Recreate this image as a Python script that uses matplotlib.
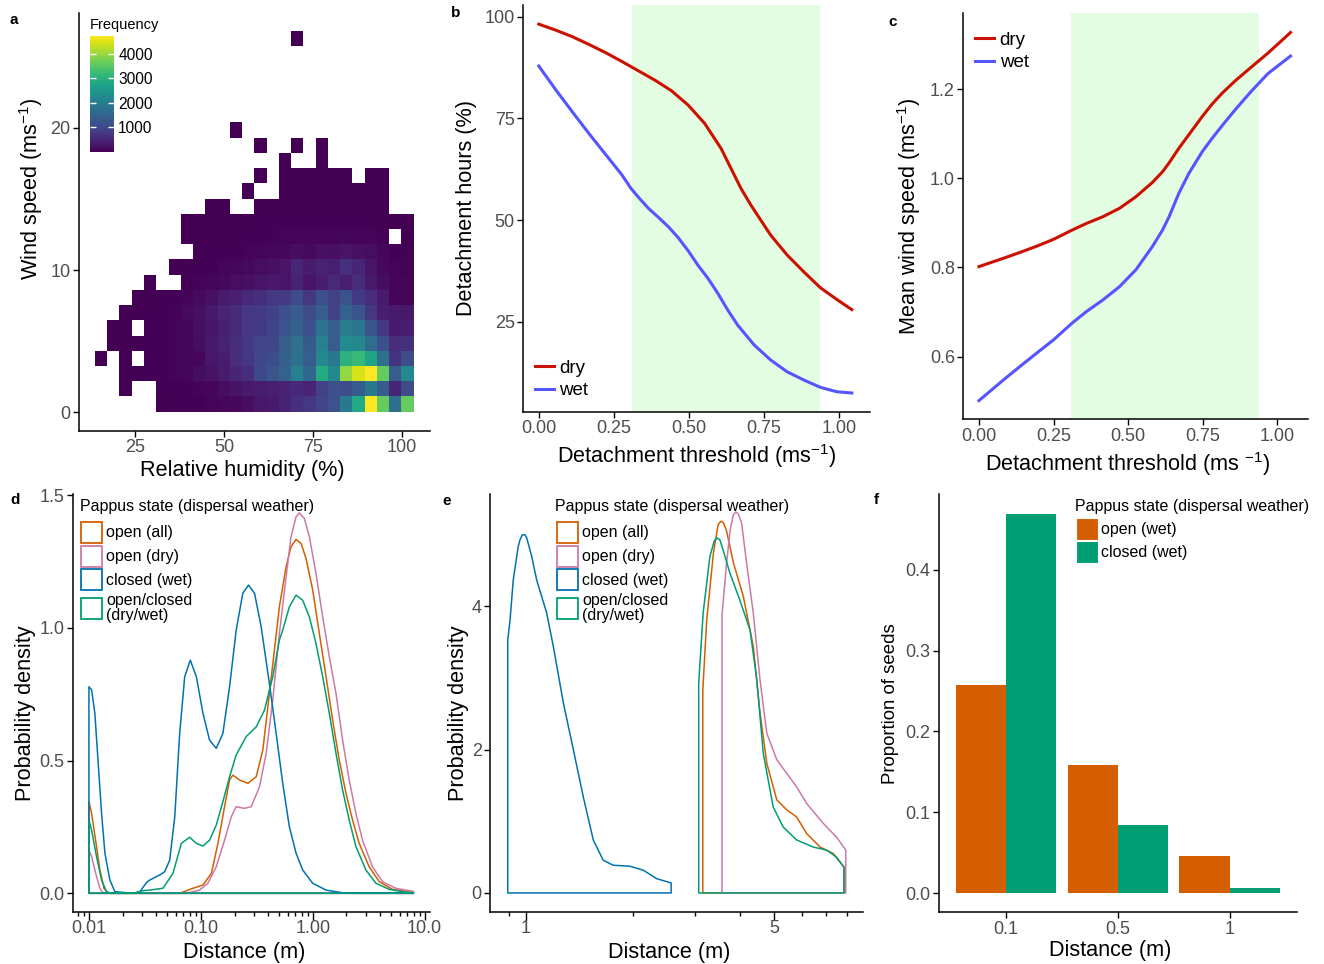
import numpy as np
import matplotlib
matplotlib.use("Agg")
import matplotlib.pyplot as plt
from matplotlib.patches import Patch, Polygon
from matplotlib.ticker import FixedLocator, FixedFormatter, NullFormatter

plt.rcParams["font.family"] = ["Liberation Sans", "DejaVu Sans"]
plt.rcParams["mathtext.fontset"] = "custom"
plt.rcParams["mathtext.rm"] = "Liberation Sans"
plt.rcParams["mathtext.it"] = "Liberation Sans:italic"
plt.rcParams["mathtext.default"] = "regular"

# ----------------------------------------------------------------------
# Data
# ----------------------------------------------------------------------

# a: 2D histogram of hourly weather, rows = wind-speed bins (bottom first),
#    columns = relative-humidity bins (left first); 0 = empty bin
rh_bin_start, rh_bin_width = 13.8, 3.44
ws_bin_start, ws_bin_height = 0.05, 1.07
wind_rh_counts = [
    [0, 0, 0, 0, 0, 15, 20, 25, 35, 50, 80, 110, 160, 280, 330, 450, 650, 750, 950, 1200, 1900, 2850, 4720, 3600, 1700, 3600],
    [0, 0, 10, 0, 0, 20, 25, 30, 45, 70, 150, 230, 330, 380, 420, 450, 550, 480, 900, 1150, 1100, 1350, 1900, 1370, 500, 1080],
    [0, 0, 10, 15, 20, 30, 40, 60, 150, 240, 340, 500, 620, 1050, 1230, 1450, 2030, 1550, 2880, 2220, 3960, 4440, 4720, 3590, 1370, 2220],
    [5, 0, 10, 0, 20, 30, 40, 60, 90, 280, 380, 600, 750, 1000, 1100, 1420, 1750, 1370, 2220, 1900, 3020, 3160, 2740, 1750, 700, 1080],
    [0, 10, 10, 15, 20, 30, 40, 60, 150, 300, 450, 610, 800, 950, 1000, 1400, 1750, 1300, 2030, 1370, 2250, 2220, 1650, 1180, 600, 650],
    [0, 10, 10, 0, 20, 30, 40, 60, 170, 260, 420, 560, 750, 800, 950, 1230, 1450, 1150, 1800, 1370, 1950, 1850, 1230, 780, 340, 380],
    [0, 0, 10, 15, 20, 30, 40, 120, 180, 300, 470, 560, 750, 780, 900, 1180, 1370, 1080, 1400, 900, 1450, 1250, 750, 400, 330, 300],
    [0, 0, 0, 10, 15, 20, 25, 40, 120, 200, 350, 400, 520, 620, 750, 800, 1080, 750, 1150, 900, 1200, 800, 600, 340, 60, 50],
    [0, 0, 0, 0, 10, 0, 0, 20, 40, 60, 100, 150, 200, 250, 300, 250, 450, 250, 380, 550, 400, 600, 330, 150, 60, 50],
    [0, 0, 0, 0, 0, 0, 15, 20, 25, 30, 60, 80, 120, 150, 200, 250, 500, 350, 450, 400, 650, 500, 250, 100, 40, 30],
    [0, 0, 0, 0, 0, 0, 0, 0, 20, 25, 30, 35, 40, 60, 80, 100, 150, 120, 200, 180, 250, 200, 150, 80, 30, 30],
    [0, 0, 0, 0, 0, 0, 0, 10, 12, 15, 18, 20, 25, 30, 35, 40, 50, 45, 60, 55, 60, 50, 40, 30, 0, 15],
    [0, 0, 0, 0, 0, 0, 0, 8, 10, 10, 12, 15, 15, 20, 25, 25, 30, 28, 35, 30, 30, 28, 22, 18, 12, 10],
    [0, 0, 0, 0, 0, 0, 0, 0, 0, 5, 5, 0, 0, 8, 10, 12, 15, 14, 18, 15, 15, 14, 12, 10, 0, 0],
    [0, 0, 0, 0, 0, 0, 0, 0, 0, 0, 0, 0, 4, 0, 0, 6, 8, 8, 10, 9, 9, 8, 7, 6, 0, 0],
    [0, 0, 0, 0, 0, 0, 0, 0, 0, 0, 0, 0, 0, 3, 0, 4, 5, 5, 6, 5, 5, 0, 4, 4, 0, 0],
    [0, 0, 0, 0, 0, 0, 0, 0, 0, 0, 0, 0, 0, 0, 0, 3, 0, 0, 3, 0, 0, 0, 0, 0, 0, 0],
    [0, 0, 0, 0, 0, 0, 0, 0, 0, 0, 0, 0, 0, 3, 0, 0, 3, 0, 3, 0, 0, 0, 0, 0, 0, 0],
    [0, 0, 0, 0, 0, 0, 0, 0, 0, 0, 0, 3, 0, 0, 0, 0, 0, 0, 0, 0, 0, 0, 0, 0, 0, 0],
    [0] * 26,
    [0] * 26,
    [0] * 26,
    [0] * 26,
    [0] * 26,
    [0, 0, 0, 0, 0, 0, 0, 0, 0, 0, 0, 0, 0, 0, 0, 0, 3, 0, 0, 0, 0, 0, 0, 0, 0, 0],
]
freq_ticks = [1000, 2000, 3000, 4000]

# b: detachment hours vs threshold
b_thr_dry = [0.0, 0.057, 0.112, 0.167, 0.222, 0.277, 0.332, 0.387, 0.442, 0.497, 0.552, 0.607,
             0.64, 0.673, 0.706, 0.739, 0.772, 0.827, 0.882, 0.937, 0.992, 1.042]
b_hours_dry = [98.2, 96.7, 95.1, 93.2, 91.2, 89.0, 86.7, 84.4, 81.8, 78.3, 73.8, 67.6,
               62.7, 57.8, 53.7, 50.0, 46.3, 41.4, 37.3, 33.4, 30.5, 28.0]
b_thr_wet = [0.0, 0.057, 0.112, 0.167, 0.222, 0.277, 0.307, 0.332, 0.365, 0.398, 0.431, 0.464,
             0.497, 0.53, 0.563, 0.596, 0.629, 0.662, 0.717, 0.772, 0.827, 0.882, 0.937, 0.992, 1.042]
b_hours_wet = [87.9, 82.0, 76.6, 71.3, 66.2, 61.1, 57.8, 55.6, 52.9, 50.7, 48.4, 45.7,
               42.5, 38.9, 35.7, 32.0, 27.9, 24.2, 19.3, 15.6, 12.7, 10.7, 8.9, 7.8, 7.5]

# c: mean wind speed vs threshold
c_thr_dry = [0.0, 0.083, 0.138, 0.194, 0.249, 0.312, 0.36, 0.415, 0.471, 0.526, 0.581, 0.615,
             0.637, 0.67, 0.703, 0.748, 0.781, 0.814, 0.858, 0.914, 0.969, 1.044]
c_speed_dry = [0.802, 0.821, 0.834, 0.848, 0.863, 0.884, 0.899, 0.914, 0.933, 0.959, 0.991, 1.015,
               1.035, 1.068, 1.098, 1.139, 1.167, 1.191, 1.219, 1.251, 1.282, 1.328]
c_thr_wet = [0.0, 0.083, 0.138, 0.194, 0.249, 0.312, 0.36, 0.415, 0.471, 0.526, 0.581, 0.615,
             0.637, 0.67, 0.703, 0.748, 0.781, 0.814, 0.858, 0.914, 0.969, 1.044]
c_speed_wet = [0.501, 0.548, 0.578, 0.608, 0.637, 0.675, 0.701, 0.727, 0.757, 0.795, 0.847, 0.884,
               0.914, 0.967, 1.011, 1.060, 1.090, 1.118, 1.154, 1.197, 1.236, 1.275]

# shaded range of plausible detachment thresholds (b, c)
thr_band = (0.31, 0.937)

# d: dispersal-distance densities, x as log10(distance in m)
d_open_all_lx = [-2.0, -1.976, -1.932, -1.902, -1.866, -1.828, -1.189, -1.07, -0.981, -0.906, -0.847, -0.788,
                 -0.743, -0.714, -0.654, -0.58, -0.505, -0.446, -0.387, -0.298, -0.238, -0.194, -0.149, -0.104,
                 -0.06, 0.0, 0.059, 0.119, 0.178, 0.237, 0.297, 0.356, 0.415, 0.504, 0.594, 0.712, 0.9]
d_open_all_y = [0.345, 0.301, 0.176, 0.088, 0.019, 0.0, 0.0, 0.019, 0.031, 0.075, 0.188, 0.326,
                0.427, 0.445, 0.427, 0.414, 0.439, 0.54, 0.753, 1.079, 1.23, 1.305, 1.333, 1.318,
                1.261, 1.142, 0.979, 0.816, 0.652, 0.502, 0.377, 0.276, 0.188, 0.1, 0.044, 0.015, 0.003]
d_open_dry_lx = [-2.0, -1.976, -1.932, -1.902, -1.872, -1.129, -1.011, -0.937, -0.862, -0.788, -0.728, -0.684,
                 -0.61, -0.55, -0.476, -0.416, -0.357, -0.298, -0.238, -0.194, -0.149, -0.12, -0.075, -0.03,
                 0.029, 0.089, 0.148, 0.208, 0.267, 0.326, 0.386, 0.445, 0.534, 0.623, 0.742, 0.9]
d_open_dry_y = [0.163, 0.138, 0.063, 0.019, 0.0, 0.0, 0.012, 0.038, 0.1, 0.2, 0.288, 0.326,
                0.32, 0.326, 0.401, 0.527, 0.728, 0.979, 1.192, 1.343, 1.418, 1.433, 1.412, 1.343,
                1.205, 1.041, 0.891, 0.753, 0.577, 0.427, 0.301, 0.2, 0.1, 0.044, 0.019, 0.007]
d_closed_wet_lx = [-2.0, -1.976, -1.947, -1.917, -1.887, -1.857, -1.813, -1.768, -1.605, -1.545, -1.486, -1.456,
                   -1.367, -1.323, -1.278, -1.233, -1.189, -1.144, -1.094, -1.04, -0.981, -0.922, -0.862, -0.803,
                   -0.743, -0.684, -0.625, -0.574, -0.52, -0.461, -0.387, -0.327, -0.268, -0.209, -0.149, -0.09,
                   -0.001, 0.119, 0.266, 0.385, 0.9]
d_closed_wet_y = [0.778, 0.766, 0.678, 0.489, 0.301, 0.151, 0.05, 0.006, 0.0, 0.006, 0.04, 0.05,
                  0.069, 0.081, 0.125, 0.288, 0.602, 0.816, 0.878, 0.816, 0.678, 0.577, 0.546, 0.602,
                  0.778, 0.991, 1.13, 1.161, 1.13, 1.004, 0.79, 0.602, 0.414, 0.251, 0.151, 0.088,
                  0.038, 0.012, 0.002, 0.0, 0.0]
d_mixed_lx = [-2.0, -1.976, -1.932, -1.887, -1.843, -1.798, -1.605, -1.516, -1.456, -1.338, -1.249, -1.174,
              -1.1, -1.04, -0.981, -0.922, -0.862, -0.803, -0.743, -0.684, -0.595, -0.505, -0.431, -0.357,
              -0.298, -0.268, -0.209, -0.149, -0.09, -0.03, 0.029, 0.089, 0.148, 0.208, 0.267, 0.326,
              0.386, 0.475, 0.564, 0.683, 0.801, 0.9]
d_mixed_y = [0.276, 0.238, 0.138, 0.05, 0.006, 0.0, 0.0, 0.01, 0.012, 0.019, 0.075, 0.188,
             0.211, 0.188, 0.178, 0.2, 0.257, 0.345, 0.439, 0.521, 0.59, 0.627, 0.69, 0.816,
             0.954, 0.991, 1.079, 1.123, 1.104, 1.041, 0.941, 0.816, 0.678, 0.527, 0.389, 0.276,
             0.176, 0.088, 0.038, 0.015, 0.006, 0.002]

# e: distance densities (second experiment), x as log10(distance in m)
e_open_all_lx = [0.498, 0.509, 0.528, 0.541, 0.549, 0.556, 0.565, 0.584, 0.612, 0.64, 0.659, 0.678,
                 0.706, 0.734, 0.762, 0.79, 0.828, 0.865, 0.895]
e_open_all_y = [2.83, 3.81, 4.75, 5.14, 5.19, 5.17, 5.05, 4.61, 4.14, 3.44, 2.51, 1.81,
                1.3, 1.16, 1.06, 0.83, 0.64, 0.55, 0.36]
e_open_dry_lx = [0.552, 0.565, 0.575, 0.584, 0.591, 0.598, 0.607, 0.621, 0.64, 0.659, 0.678, 0.706,
                 0.734, 0.762, 0.79, 0.837, 0.874, 0.9]
e_open_dry_y = [3.88, 4.61, 5.07, 5.28, 5.32, 5.29, 5.17, 4.61, 3.91, 2.97, 2.23, 1.86,
                1.67, 1.48, 1.25, 0.97, 0.78, 0.6]
e_closed_wet_lx = [-0.0505, -0.044, -0.035, -0.021, -0.016, -0.0095, -0.002, 0.0027, 0.0168, 0.0308, 0.059,
                   0.0777, 0.106, 0.134, 0.162, 0.19, 0.218, 0.246, 0.293, 0.331, 0.368, 0.409]
e_closed_wet_y = [3.53, 3.81, 4.37, 4.84, 4.93, 5.0, 5.0, 4.96, 4.7, 4.37, 3.91,
                  3.44, 2.65, 2.0, 1.34, 0.74, 0.457, 0.387, 0.373, 0.317, 0.2, 0.14]
e_mixed_lx = [0.4865, 0.499, 0.518, 0.53, 0.537, 0.546, 0.555, 0.574, 0.602, 0.631, 0.65, 0.668,
              0.696, 0.724, 0.762, 0.809, 0.846, 0.874, 0.895]
e_mixed_y = [2.93, 3.91, 4.7, 4.91, 4.96, 4.93, 4.79, 4.47, 4.09, 3.67, 2.97, 1.95,
             1.2, 0.92, 0.74, 0.64, 0.6, 0.5, 0.36]

# f: proportion of seeds reaching each distance
f_distance_labels = ["0.1", "0.5", "1"]
f_open_wet = [0.258, 0.159, 0.046]
f_closed_wet = [0.469, 0.085, 0.006]

state_labels = ["open (all)", "open (dry)", "closed (wet)", "open/closed\n(dry/wet)"]
legend_title = "Pappus state (dispersal weather)"

# ----------------------------------------------------------------------
# Style
# ----------------------------------------------------------------------
W, H = 1324, 964
GREY = "#4D4D4D"
DRY, WET = "#CC1100", "#5555FF"
C_OPEN_ALL, C_OPEN_DRY = "#D55E00", "#CC79A7"
C_CLOSED, C_MIXED = "#0072B2", "#009E73"
BAND = "#E2FDE2"
TICK_FS, TITLE_FS, LEG_FS = 13, 15.6, 11.5


def axes_px(fig, left, top, right, bottom):
    """Add axes from a pixel box (origin at top-left of the figure)."""
    return fig.add_axes([left / W, 1 - bottom / H, (right - left) / W, (bottom - top) / H])


def classic(ax):
    for s in ("top", "right"):
        ax.spines[s].set_visible(False)
    for s in ("left", "bottom"):
        ax.spines[s].set_linewidth(1.1)
    ax.tick_params(which="major", direction="out", length=4, width=1.0,
                   labelsize=TICK_FS, labelcolor=GREY, pad=2)
    ax.tick_params(which="minor", direction="out", length=2.8, width=1.0)


def density_outline(ax, lx, y, color):
    xs = 10 ** np.asarray(lx)
    ys = np.asarray(y)
    verts = np.column_stack([np.r_[xs[0], xs, xs[-1]], np.r_[0, ys, 0]])
    ax.add_patch(Polygon(verts, closed=True, fill=False, edgecolor=color, lw=1.1,
                         joinstyle="round"))


def state_legend(ax, title_px, anchor, handles, **kw):
    fig.text(title_px[0] / W, 1 - title_px[1] / H, legend_title, fontsize=LEG_FS,
             ha="left", va="center")
    opts = dict(loc="upper left", bbox_to_anchor=anchor, frameon=False,
                fontsize=LEG_FS, borderpad=0, borderaxespad=0,
                handlelength=1.31, handleheight=1.65, handletextpad=0.25,
                labelspacing=0.175)
    opts.update(kw)
    leg = ax.legend(handles=handles, **opts)
    for t in leg.get_texts():
        t.set_linespacing(0.95)
    return leg


fig = plt.figure(figsize=(W / 100, H / 100), dpi=100)

# ----------------------------------------------------------------------
# a: humidity / wind speed histogram
# ----------------------------------------------------------------------
ax = axes_px(fig, 79, 12.7, 430, 430.7)
counts = np.ma.masked_equal(np.array(wind_rh_counts, dtype=float), 0)
x_edges = rh_bin_start + rh_bin_width * np.arange(counts.shape[1] + 1)
y_edges = ws_bin_start + ws_bin_height * np.arange(counts.shape[0] + 1)
mesh = ax.pcolormesh(x_edges, y_edges, counts, cmap="viridis", vmin=1, vmax=4720,
                     shading="flat", antialiased=False)
ax.set_xlim(9.33, 107.8)
ax.set_ylim(-1.29, 28.1)
ax.set_xticks([25, 50, 75, 100])
ax.set_yticks([0, 10, 20])
classic(ax)
ax.set_xlabel("Relative humidity (%)", fontsize=TITLE_FS, labelpad=3)
ax.set_ylabel("Wind speed (ms$^{-1}$)", fontsize=TITLE_FS, labelpad=4)
ax.xaxis.label.set_x(0.466)
ax.yaxis.label.set_y(0.578)

cax = axes_px(fig, 90, 36, 114, 152)
cb = fig.colorbar(mesh, cax=cax, ticks=freq_ticks)
cb.outline.set_visible(False)
cax.tick_params(axis="y", which="major", left=True, right=True, direction="in",
                length=4, width=1.0, color="white", labelsize=11.2, labelcolor="black",
                labelleft=False, labelright=True, pad=3)
cax.tick_params(axis="y", which="minor", left=False, right=False)
fig.text(90 / W, 1 - 25 / H, "Frequency", fontsize=10.5, ha="left", va="center")

# ----------------------------------------------------------------------
# b: detachment hours
# ----------------------------------------------------------------------
ax = axes_px(fig, 523, 5, 870, 411.7)
ax.axvspan(*thr_band, color=BAND, lw=0)
ax.plot(b_thr_dry, b_hours_dry, color=DRY, lw=2.2, label="dry", solid_joinstyle="round")
ax.plot(b_thr_wet, b_hours_wet, color=WET, lw=2.2, label="wet", solid_joinstyle="round")
ax.set_xlim(-0.0525, 1.1025)
ax.set_ylim(2.9, 102.9)
ax.set_xticks([0, 0.25, 0.5, 0.75, 1.0])
ax.set_xticklabels(["0.00", "0.25", "0.50", "0.75", "1.00"])
ax.set_yticks([25, 50, 75, 100])
classic(ax)
ax.set_xlabel("Detachment threshold (ms$^{-1}$)", fontsize=TITLE_FS, labelpad=4)
ax.set_ylabel("Detachment hours (%)", fontsize=TITLE_FS, labelpad=5)
ax.legend(loc="lower left", bbox_to_anchor=(0.035, 0.03), frameon=False, fontsize=13.5,
          borderpad=0, borderaxespad=0, handlelength=1.0, handletextpad=0.3, labelspacing=0.3)

# ----------------------------------------------------------------------
# c: mean wind speed
# ----------------------------------------------------------------------
ax = axes_px(fig, 963.3, 13.3, 1308, 419.3)
ax.axvspan(*thr_band, color=BAND, lw=0)
ax.plot(c_thr_dry, c_speed_dry, color=DRY, lw=2.2, label="dry", solid_joinstyle="round")
ax.plot(c_thr_wet, c_speed_wet, color=WET, lw=2.2, label="wet", solid_joinstyle="round")
ax.set_xlim(-0.0525, 1.1025)
ax.set_ylim(0.459, 1.371)
ax.set_xticks([0, 0.25, 0.5, 0.75, 1.0])
ax.set_xticklabels(["0.00", "0.25", "0.50", "0.75", "1.00"])
ax.set_yticks([0.6, 0.8, 1.0, 1.2])
classic(ax)
ax.set_xlabel("Detachment threshold (ms $^{-1}$)", fontsize=TITLE_FS, labelpad=4)
ax.set_ylabel("Mean wind speed (ms$^{-1}$)", fontsize=TITLE_FS, labelpad=5)
ax.xaxis.label.set_x(0.476)
ax.legend(loc="upper left", bbox_to_anchor=(0.035, 0.955), frameon=False, fontsize=13.5,
          borderpad=0, borderaxespad=0, handlelength=1.0, handletextpad=0.3, labelspacing=0.3)

# ----------------------------------------------------------------------
# d: distance densities (log x)
# ----------------------------------------------------------------------
ax = axes_px(fig, 72.7, 494, 430, 912.3)
density_outline(ax, d_open_all_lx, d_open_all_y, C_OPEN_ALL)
density_outline(ax, d_open_dry_lx, d_open_dry_y, C_OPEN_DRY)
density_outline(ax, d_closed_wet_lx, d_closed_wet_y, C_CLOSED)
density_outline(ax, d_mixed_lx, d_mixed_y, C_MIXED)
ax.set_xscale("log")
ax.set_xlim(10 ** -2.145, 10 ** 1.048)
ax.set_ylim(-0.0716, 1.504)
ax.xaxis.set_major_locator(FixedLocator([0.01, 0.1, 1, 10]))
ax.xaxis.set_major_formatter(FixedFormatter(["0.01", "0.10", "1.00", "10.0"]))
ax.xaxis.set_minor_locator(FixedLocator(
    [0.007, 0.008, 0.009] + [k * 0.01 for k in range(2, 10)] + [k * 0.1 for k in range(2, 10)]
    + list(range(2, 10))))
ax.xaxis.set_minor_formatter(NullFormatter())
ax.set_yticks([0.0, 0.5, 1.0, 1.5])
classic(ax)
ax.tick_params(axis="x", which="major", length=5.5, pad=0.4)
ax.set_xlabel("Distance (m)", fontsize=TITLE_FS, labelpad=3.6)
ax.set_ylabel("Probability density", fontsize=TITLE_FS, labelpad=2)
ax.xaxis.label.set_x(0.479)
ax.yaxis.label.set_y(0.4765)
outline_handles = [Patch(facecolor="white", edgecolor=c, lw=1.3, label=l)
                   for c, l in zip([C_OPEN_ALL, C_OPEN_DRY, C_CLOSED, C_MIXED], state_labels)]
state_legend(ax, (80, 506), (0.0232, 0.9338), outline_handles)

# ----------------------------------------------------------------------
# e: distance densities, second set (log x)
# ----------------------------------------------------------------------
ax = axes_px(fig, 490, 494, 863, 912.3)
density_outline(ax, e_open_all_lx, e_open_all_y, C_OPEN_ALL)
density_outline(ax, e_open_dry_lx, e_open_dry_y, C_OPEN_DRY)
density_outline(ax, e_closed_wet_lx, e_closed_wet_y, C_CLOSED)
density_outline(ax, e_mixed_lx, e_mixed_y, C_MIXED)
ax.set_xscale("log")
ax.set_xlim(10 ** -0.1004, 10 ** 0.9485)
ax.set_ylim(-0.27, 5.57)
ax.xaxis.set_major_locator(FixedLocator([1, 5]))
ax.xaxis.set_major_formatter(FixedFormatter(["1", "5"]))
ax.xaxis.set_minor_locator(FixedLocator([0.9, 2, 3, 4, 6, 7, 8]))
ax.xaxis.set_minor_formatter(NullFormatter())
ax.set_yticks([0, 2, 4])
classic(ax)
ax.tick_params(axis="x", which="major", length=5.5, pad=0.4)
ax.set_xlabel("Distance (m)", fontsize=TITLE_FS, labelpad=3.6)
ax.set_ylabel("Probability density", fontsize=TITLE_FS, labelpad=1.5)
ax.xaxis.label.set_x(0.481)
ax.yaxis.label.set_y(0.4765)
state_legend(ax, (555, 506), (0.1796, 0.9338), outline_handles)

# ----------------------------------------------------------------------
# f: proportion of seeds per distance
# ----------------------------------------------------------------------
ax = axes_px(fig, 939, 494, 1296.7, 912.3)
pos = np.arange(1, len(f_distance_labels) + 1)
ax.bar(pos - 0.225, f_open_wet, width=0.45, color=C_OPEN_ALL, label="open (wet)")
ax.bar(pos + 0.225, f_closed_wet, width=0.45, color=C_MIXED, label="closed (wet)")
ax.set_xlim(0.4, 3.6)
ax.set_ylim(-0.0235, 0.4935)
ax.set_xticks(pos)
ax.set_xticklabels(f_distance_labels)
ax.set_yticks([0.0, 0.1, 0.2, 0.3, 0.4])
classic(ax)
ax.set_xlabel("Distance (m)", fontsize=TITLE_FS, labelpad=2)
ax.set_ylabel("Proportion of seeds", fontsize=13.4, labelpad=5)
ax.xaxis.label.set_x(0.478)
bar_handles = [Patch(facecolor=C_OPEN_ALL, edgecolor="white", lw=0.8, label="open (wet)"),
               Patch(facecolor=C_MIXED, edgecolor="white", lw=0.8, label="closed (wet)")]
state_legend(ax, (1075, 506), (0.383, 0.9419), bar_handles, handlelength=1.38,
             handleheight=1.71, labelspacing=0.06, handletextpad=0.17)

# panel letters
for letter, (px, py) in zip("abcdef", [(14, 20), (456, 13), (893, 21.5),
                                       (15, 500), (447, 501), (876, 500)]):
    fig.text(px / W, 1 - py / H, letter, fontsize=11, fontweight="bold",
             ha="center", va="center")

fig.savefig("out.png", dpi=100)
